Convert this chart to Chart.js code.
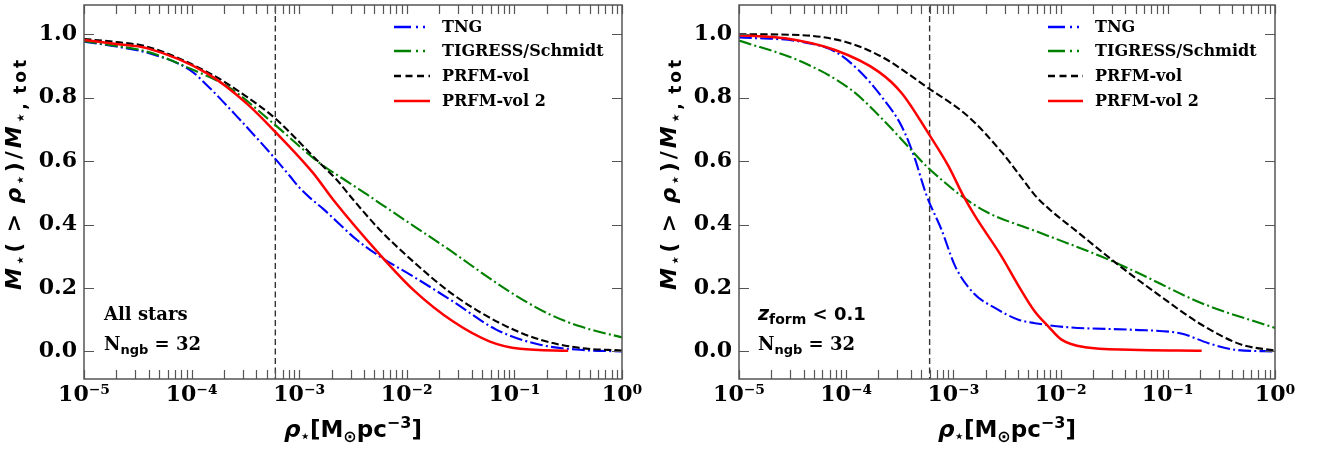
<!DOCTYPE html>
<html><head><meta charset="utf-8">
<script src="https://cdn.jsdelivr.net/npm/chart.js@4.4.0/dist/chart.umd.min.js"></script>
<style>
html,body{margin:0;padding:0;background:#fff;}
#wrap{position:relative;width:1320px;height:450px;background:#fff;}
.pane{position:absolute;top:0;width:660px;height:450px;}
</style></head><body>
<div id="wrap">
<div class="pane" style="left:0"><canvas id="c1" width="660" height="450"></canvas></div>
<div class="pane" style="left:660px"><canvas id="c2" width="660" height="450"></canvas></div>
</div>
<script>
// ---------- axis ticks ----------
const xTickValues = [1e-5, 1e-4, 1e-3, 1e-2, 1e-1, 1];
const xTickLabels = ['10\u207B\u2075', '10\u207B\u2074', '10\u207B\u00B3', '10\u207B\u00B2', '10\u207B\u00B9', '10\u2070'];
const xMinorMultipliers = [2, 3, 4, 5, 6, 7, 8, 9];
const yTickValues = [0, 0.2, 0.4, 0.6, 0.8, 1.0];
const yTickLabels = ['0.0', '0.2', '0.4', '0.6', '0.8', '1.0'];
const seriesNames = ['TNG', 'TIGRESS/Schmidt', 'PRFM-vol', 'PRFM-vol 2'];
const rhoCut = 6e-4;

// ---------- left panel: all stars ----------
const allTNG_rho  = [1e-5, 2e-5, 3.83e-5, 9.66e-5, 1.38e-4, 2.82e-4, 5.75e-4, 8.22e-4, 1.0e-3, 1.26e-3, 1.66e-3, 3.42e-3, 5.62e-3, 1.15e-2, 2.70e-2, 6.84e-2, 0.173, 0.407, 1];
const allTNG_frac = [0.976, 0.961, 0.942, 0.887, 0.840, 0.730, 0.614, 0.552, 0.517, 0.484, 0.450, 0.352, 0.299, 0.236, 0.157, 0.068, 0.021, 0.005, 0.0];
const allTIG_rho  = [1e-5, 2e-5, 3.83e-5, 1.04e-4, 2.28e-4, 5.96e-4, 1.56e-3, 2.96e-3, 4.57e-3, 5.62e-3, 2.34e-2, 8.51e-2, 0.2, 0.407, 1];
const allTIG_frac = [0.978, 0.963, 0.945, 0.887, 0.830, 0.714, 0.593, 0.530, 0.488, 0.467, 0.326, 0.194, 0.121, 0.079, 0.044];
const allPV_rho   = [1e-5, 2e-5, 3.83e-5, 1.58e-4, 3.24e-4, 5.96e-4, 1.56e-3, 2.23e-3, 3.18e-3, 5.62e-3, 1.15e-2, 2.70e-2, 7.35e-2, 0.173, 0.407, 1];
const allPV_frac  = [0.985, 0.975, 0.961, 0.871, 0.803, 0.735, 0.593, 0.541, 0.478, 0.383, 0.283, 0.179, 0.089, 0.037, 0.011, 0.003];
const allPV2_rho  = [1e-5, 2e-5, 3.83e-5, 1.38e-4, 3.24e-4, 5.96e-4, 1.35e-3, 2.07e-3, 5.62e-3, 1.15e-2, 2.70e-2, 5.93e-2, 0.113, 0.316];
const allPV2_frac = [0.982, 0.969, 0.956, 0.877, 0.782, 0.693, 0.562, 0.478, 0.305, 0.194, 0.094, 0.031, 0.008, 0.002];

// ---------- right panel: z_form < 0.1 ----------
const youngTNG_rho  = [1e-5, 3.85e-5, 7.87e-5, 1.30e-4, 2.14e-4, 3.30e-4, 4.39e-4, 4.99e-4, 5.64e-4, 7.76e-4, 1.04e-3, 1.54e-3, 2.44e-3, 4.04e-3, 5.77e-3, 1.18e-2, 4.94e-2, 0.117, 0.145, 0.239, 0.424, 1];
const youngTNG_frac = [0.990, 0.976, 0.945, 0.887, 0.803, 0.709, 0.606, 0.545, 0.490, 0.383, 0.268, 0.184, 0.137, 0.100, 0.089, 0.076, 0.068, 0.060, 0.053, 0.026, 0.005, 0.0];
const youngTIG_rho  = [1e-5, 3.85e-5, 1.12e-4, 2.30e-4, 3.54e-4, 5.83e-4, 7.76e-4, 1.19e-3, 2.11e-3, 5.77e-3, 2.40e-2, 4.94e-2, 0.207, 1];
const youngTIG_frac = [0.980, 0.913, 0.824, 0.724, 0.656, 0.578, 0.541, 0.490, 0.437, 0.380, 0.299, 0.252, 0.152, 0.074];
const youngPV_rho   = [1e-5, 3.85e-5, 9.75e-5, 2.14e-4, 5.83e-4, 1.38e-3, 2.82e-3, 4.33e-3, 5.77e-3, 8.0e-3, 1.36e-2, 3.45e-2, 8.15e-2, 0.207, 0.489, 1];
const youngPV_frac  = [1.000, 0.997, 0.976, 0.929, 0.830, 0.740, 0.628, 0.547, 0.492, 0.446, 0.383, 0.273, 0.179, 0.084, 0.021, 0.003];
const youngPV2_rho  = [1e-5, 2.7e-5, 7.87e-5, 2.0e-4, 3.30e-4, 5.83e-4, 8.97e-4, 1.24e-3, 1.59e-3, 2.82e-3, 4.0e-3, 5.77e-3, 7.67e-3, 1.02e-2, 1.69e-2, 4.45e-2, 0.207];
const youngPV2_frac = [0.997, 0.987, 0.950, 0.882, 0.814, 0.688, 0.585, 0.490, 0.427, 0.299, 0.210, 0.125, 0.079, 0.037, 0.013, 0.005, 0.002];

// ---------- styles ----------
const colors = ['#0000ff', '#008000', '#000000', '#ff0000'];
const dashes = [[12.8, 3.2, 2, 3.2], [12.8, 3.2, 2, 3.2], [7.4, 3.2], []];
const widths = [2.1, 2.1, 2.1, 2.5];
const legendDashes = [[17, 5, 2, 5, 2, 60], [17, 5, 2, 5, 2, 60], [7, 4.5], []];

const SERIF = '"DejaVu Serif", serif';
const SANS = '"DejaVu Sans", sans-serif';

function pts(xs, ys) { return xs.map((x, i) => ({x: x, y: ys[i]})); }

function drawRich(ctx, parts, x, y, align, ls) {
  ls = ls || 0;
  const seq = [];
  parts.forEach(p => {
    ctx.font = p.f;
    Array.from(p.t).forEach(ch => seq.push({ch: ch, f: p.f, dy: p.dy || 0, w: ctx.measureText(ch).width + ls}));
  });
  const w = seq.reduce((s, c) => s + c.w, 0) - ls;
  let cx = align === 'center' ? x - w / 2 : x;
  seq.forEach(c => { ctx.font = c.f; ctx.fillText(c.ch, cx, y + c.dy); cx += c.w; });
  return w;
}

function makeDeco(cfg) {
  return {
    id: 'deco',
    afterDraw(chart) {
      const ctx = chart.ctx, a = chart.chartArea;
      const xs = chart.scales.x, ys = chart.scales.y;
      ctx.save();
      // ticks (inside, all four sides)
      ctx.strokeStyle = '#555';
      ctx.lineWidth = 1.2;
      ctx.beginPath();
      const xt = [];
      for (let i = 0; i < xTickValues.length; i++) {
        xt.push(xTickValues[i]);
        if (i < xTickValues.length - 1) xMinorMultipliers.forEach(m => xt.push(m * xTickValues[i]));
      }
      xt.forEach(v => {
        const px = Math.round(xs.getPixelForValue(v)) + 0.5;
        ctx.moveTo(px, a.bottom); ctx.lineTo(px, a.bottom - 9);
        ctx.moveTo(px, a.top); ctx.lineTo(px, a.top + 9);
      });
      yTickValues.forEach(v => {
        const py = Math.round(ys.getPixelForValue(v)) + 0.5;
        ctx.moveTo(a.left, py); ctx.lineTo(a.left + 10, py);
        ctx.moveTo(a.right, py); ctx.lineTo(a.right - 10, py);
      });
      ctx.stroke();
      // frame
      ctx.strokeStyle = '#555';
      ctx.lineWidth = 1.5;
      ctx.strokeRect(a.left, a.top, a.right - a.left, a.bottom - a.top);

      // legend
      ctx.textBaseline = 'middle';
      ctx.fillStyle = '#000';
      for (let i = 0; i < 4; i++) {
        const y = cfg.legendY[i];
        ctx.beginPath();
        ctx.setLineDash(legendDashes[i]);
        ctx.strokeStyle = colors[i];
        ctx.lineWidth = 2.6;
        ctx.moveTo(cfg.legendX0, y); ctx.lineTo(cfg.legendX1, y);
        ctx.stroke();
        ctx.setLineDash([]);
        ctx.font = 'bold 16px ' + SERIF;
        ctx.fillText(seriesNames[i], cfg.legendTX, y + 1);
      }

      // annotations
      ctx.textBaseline = 'alphabetic';
      ctx.fillStyle = '#000';
      drawRich(ctx, cfg.label1, cfg.annX, 320, 'left');
      drawRich(ctx, [
        {t: 'N', f: 'bold 18px ' + SERIF},
        {t: 'ngb', f: 'bold 13px ' + SANS, dy: 4},
        {t: ' = 32', f: 'bold 18px ' + SERIF}
      ], cfg.annX, 350, 'left');

      // x axis title
      const cx = (a.left + a.right) / 2;
      drawRich(ctx, [
        {t: '\u03C1', f: 'italic bold 23px ' + SANS},
        {t: '\u22C6', f: 'bold 15px ' + SANS, dy: 4},
        {t: '[M', f: 'bold 23px ' + SANS},
        {t: '\u2299', f: 'bold 16px ' + SANS, dy: 5},
        {t: 'pc', f: 'bold 23px ' + SANS},
        {t: '\u22123', f: 'bold 16px ' + SANS, dy: -9},
        {t: ']', f: 'bold 23px ' + SANS}
      ], cx, 437, 'center');

      // y axis title
      ctx.save();
      ctx.translate(cfg.yTitleX, 290);
      ctx.rotate(-Math.PI / 2);
      drawRich(ctx, [
        {t: 'M', f: 'italic bold 22px ' + SANS},
        {t: '\u22C6', f: 'bold 15px ' + SANS, dy: 4},
        {t: '(\u2009>\u2009', f: 'bold 22px ' + SANS},
        {t: '\u03C1', f: 'italic bold 22px ' + SANS},
        {t: '\u22C6', f: 'bold 15px ' + SANS, dy: 4},
        {t: ')/', f: 'bold 22px ' + SANS},
        {t: 'M', f: 'italic bold 22px ' + SANS},
        {t: '\u22C6,\u2009tot', f: 'bold 17px ' + SANS, dy: 5}
      ], 0, 0, 'left', 3.0);
      ctx.restore();
      ctx.restore();
    }
  };
}

function makeChart(id, series, pad, yW, deco) {
  const datasets = series.map((s, i) => ({
    label: seriesNames[i],
    data: pts(s[0], s[1]),
    borderColor: colors[i],
    borderWidth: widths[i],
    borderDash: dashes[i],
    pointRadius: 0,
    fill: false,
    cubicInterpolationMode: 'monotone',
    order: 4 - i
  }));
  datasets.push({
    label: 'cut',
    data: [{x: rhoCut, y: -0.1}, {x: rhoCut, y: 1.2}],
    borderColor: 'rgba(40,40,40,0.95)',
    borderWidth: 1.4,
    borderDash: [6, 3.5],
    pointRadius: 0,
    fill: false,
    order: 6
  });
  return new Chart(document.getElementById(id), {
    type: 'line',
    data: {datasets: datasets},
    options: {
      responsive: false,
      animation: false,
      devicePixelRatio: 1,
      events: [],
      layout: {padding: pad},
      plugins: {legend: {display: false}, tooltip: {enabled: false}},
      scales: {
        x: {
          type: 'logarithmic', min: 1e-5, max: 1,
          afterBuildTicks: s => { s.ticks = xTickValues.map(v => ({value: v, major: true})); },
          afterFit: s => { s.height = 71; s.paddingLeft = 0; s.paddingRight = 0; },
          ticks: {
            callback: v => xTickLabels[xTickValues.indexOf(v)],
            font: {family: SERIF, weight: 'bold', size: 22},
            color: '#000', padding: 3, maxRotation: 0, autoSkip: false
          },
          grid: {display: false, drawTicks: false},
          border: {display: false}
        },
        y: {
          type: 'linear', min: -0.087, max: 1.092,
          afterBuildTicks: s => { s.ticks = yTickValues.map(v => ({value: v})); },
          afterFit: s => { s.width = yW; s.paddingTop = 0; s.paddingBottom = 0; },
          ticks: {
            callback: v => yTickLabels[yTickValues.indexOf(v)],
            font: {family: SERIF, weight: 'bold', size: 22},
            color: '#000', padding: 7
          },
          grid: {display: false, drawTicks: false},
          border: {display: false}
        }
      }
    },
    plugins: [deco]
  });
}

makeChart('c1',
  [[allTNG_rho, allTNG_frac], [allTIG_rho, allTIG_frac], [allPV_rho, allPV_frac], [allPV2_rho, allPV2_frac]],
  {left: 0, right: 38, top: 5, bottom: 0}, 84,
  makeDeco({
    legendY: [27, 51, 76, 101], legendX0: 394, legendX1: 430, legendTX: 442,
    annX: 104, yTitleX: 21,
    label1: [{t: 'All stars', f: 'bold 18px ' + SERIF}]
  }));

makeChart('c2',
  [[youngTNG_rho, youngTNG_frac], [youngTIG_rho, youngTIG_frac], [youngPV_rho, youngPV_frac], [youngPV2_rho, youngPV2_frac]],
  {left: 0, right: 45, top: 5, bottom: 0}, 79,
  makeDeco({
    legendY: [27, 51, 76, 101], legendX0: 388, legendX1: 423, legendTX: 435,
    annX: 98, yTitleX: 16,
    label1: [
      {t: 'z', f: 'italic bold 19px ' + SANS},
      {t: 'form', f: 'bold 14px ' + SANS, dy: 4},
      {t: ' < 0.1', f: 'bold 18px ' + SANS}
    ]
  }));
</script>
</body></html>
